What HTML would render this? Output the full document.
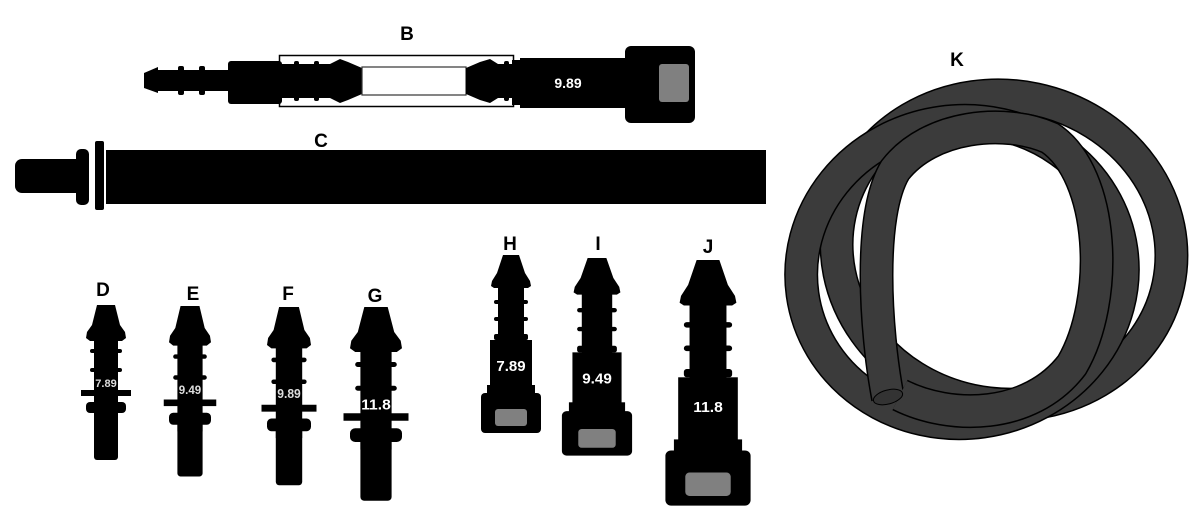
<!DOCTYPE html>
<html><head><meta charset="utf-8"><style>
html,body{margin:0;padding:0;background:#fff;}
svg{display:block;font-family:"Liberation Sans",sans-serif;font-weight:bold;}
</style></head><body>
<svg width="1200" height="532" viewBox="0 0 1200 532" xmlns="http://www.w3.org/2000/svg">
<defs>
<g id="dconn">
  <polygon points="-9,0 9,0 14,20 19,27 20,33 16,36 -16,36 -20,33 -19,27 -14,20" fill="#000"/>
  <rect x="-12" y="34" width="24" height="80" fill="#000"/>
  <rect x="-16" y="44" width="32" height="4" rx="2" fill="#000"/>
  <rect x="-16" y="63" width="32" height="4" rx="2" fill="#000"/>
  <rect x="-25" y="85" width="50" height="6" fill="#000"/>
  <rect x="-20" y="97" width="40" height="11" rx="4" fill="#000"/>
  <rect x="-12" y="105" width="24" height="50" rx="3" fill="#000"/>
</g>
<g id="hconn">
  <polygon points="-8,0 8,0 14,18 19,26 20,31 17,33 -17,33 -20,31 -19,26 -14,18" fill="#000"/>
  <rect x="-13" y="32" width="26" height="56" fill="#000"/>
  <rect x="-17" y="45" width="34" height="4" rx="2" fill="#000"/>
  <rect x="-17" y="62" width="34" height="4" rx="2" fill="#000"/>
  <rect x="-17" y="79" width="34" height="6" rx="2" fill="#000"/>
  <rect x="-21" y="85" width="42" height="58" fill="#000"/>
  <rect x="-24" y="130" width="48" height="12" fill="#000"/>
  <rect x="-30" y="138" width="60" height="40" rx="4" fill="#000"/>
  <rect x="-16" y="154" width="32" height="17" rx="3" fill="#808080"/>
</g>
</defs>

<!-- B -->
<text x="407" y="40" font-size="19" text-anchor="middle">B</text>
<rect x="279.5" y="55.5" width="234" height="51" fill="#fff" stroke="#000" stroke-width="1.5"/>
<polygon points="144,73 158,67 158,93 144,88" fill="#000"/>
<rect x="156" y="70" width="74" height="21" fill="#000"/>
<rect x="178" y="66" width="6" height="29" rx="2" fill="#000"/>
<rect x="199" y="66" width="6" height="29" rx="2" fill="#000"/>
<rect x="228" y="61" width="54" height="43" rx="3" fill="#000"/>
<polygon points="279,64 330,64 340,59 348,62 362,68 362,94 348,100 340,103 330,98 279,98" fill="#000"/>
<rect x="294" y="61" width="5" height="40" rx="2" fill="#000"/>
<rect x="314" y="61" width="5" height="40" rx="2" fill="#000"/>
<rect x="362" y="67" width="104" height="28" fill="#fff" stroke="#333" stroke-width="1.2"/>
<polygon points="466,68 480,62 490,59 498,64 514,64 514,98 498,98 490,103 480,100 466,94" fill="#000"/>
<rect x="504" y="61" width="5" height="40" rx="2" fill="#000"/>
<rect x="512" y="60" width="12" height="45" fill="#000"/>
<rect x="520" y="58" width="110" height="50" fill="#000"/>
<rect x="625" y="46" width="70" height="77" rx="6" fill="#000"/>
<rect x="659" y="64" width="30" height="38" rx="3" fill="#808080"/>
<text x="568" y="88" font-size="14" fill="#fff" text-anchor="middle">9.89</text>

<!-- C -->
<text x="321" y="147" font-size="19" text-anchor="middle">C</text>
<rect x="15" y="159" width="70" height="34" rx="7" fill="#000"/>
<rect x="76" y="149" width="13" height="56" rx="5" fill="#000"/>
<rect x="95" y="141" width="9" height="69" rx="2" fill="#000"/>
<rect x="106" y="150" width="660" height="54" fill="#000"/>

<!-- D-G -->
<text x="103" y="296" font-size="19" text-anchor="middle">D</text>
<g transform="translate(106,305)"><use href="#dconn"/><text x="0" y="82" font-size="11" fill="#ddd" text-anchor="middle">7.89</text></g>
<text x="193" y="300" font-size="19" text-anchor="middle">E</text>
<g transform="translate(190,306) scale(1.05,1.1)"><use href="#dconn"/><text x="0" y="80" font-size="11" fill="#ddd" text-anchor="middle">9.49</text></g>
<text x="288" y="300" font-size="19" text-anchor="middle">F</text>
<g transform="translate(289,307) scale(1.1,1.15)"><use href="#dconn"/><text x="0" y="79" font-size="11" fill="#ddd" text-anchor="middle">9.89</text></g>
<text x="375" y="302" font-size="19" text-anchor="middle">G</text>
<g transform="translate(376,307) scale(1.3,1.25)"><use href="#dconn"/><text x="0" y="82" font-size="12" fill="#fff" text-anchor="middle">11.8</text></g>

<!-- H-J -->
<text x="510" y="250" font-size="19" text-anchor="middle">H</text>
<g transform="translate(511,255)"><use href="#hconn"/><text x="0" y="116" font-size="15" fill="#fff" text-anchor="middle">7.89</text></g>
<text x="598" y="250" font-size="19" text-anchor="middle">I</text>
<g transform="translate(597,258) scale(1.17,1.11)"><use href="#hconn"/><text x="0" y="113" font-size="13" fill="#fff" text-anchor="middle">9.49</text></g>
<text x="708" y="253" font-size="19" text-anchor="middle">J</text>
<g transform="translate(708,260) scale(1.42,1.38)"><use href="#hconn"/><text x="0" y="110" font-size="11" fill="#fff" text-anchor="middle">11.8</text></g>

<!-- K -->
<text x="957" y="66" font-size="19" text-anchor="middle">K</text>
<g fill="none" stroke-linecap="butt">
  <ellipse cx="1004" cy="250" rx="168" ry="154" transform="rotate(12 1004 250)" stroke="#000" stroke-width="34"/>
  <ellipse cx="1004" cy="250" rx="168" ry="154" transform="rotate(12 1004 250)" stroke="#3b3b3b" stroke-width="31"/>
  <ellipse cx="962" cy="272" rx="161" ry="151" transform="rotate(-8 962 272)" stroke="#000" stroke-width="34"/>
  <ellipse cx="962" cy="272" rx="161" ry="151" transform="rotate(-8 962 272)" stroke="#3b3b3b" stroke-width="31"/>
  <path d="M888,398 C875,330 868,215 895,170 C930,125 1005,118 1050,138 C1105,175 1110,300 1072,365 C1030,420 950,420 900,395" stroke="#000" stroke-width="34"/>
  <path d="M888,398 C875,330 868,215 895,170 C930,125 1005,118 1050,138 C1105,175 1110,300 1072,365 C1030,420 950,420 900,395" stroke="#3b3b3b" stroke-width="31"/>
</g>
<ellipse cx="888" cy="397" rx="15" ry="7" transform="rotate(-15 888 397)" fill="#333" stroke="#000" stroke-width="1"/>
</svg>
</body></html>
